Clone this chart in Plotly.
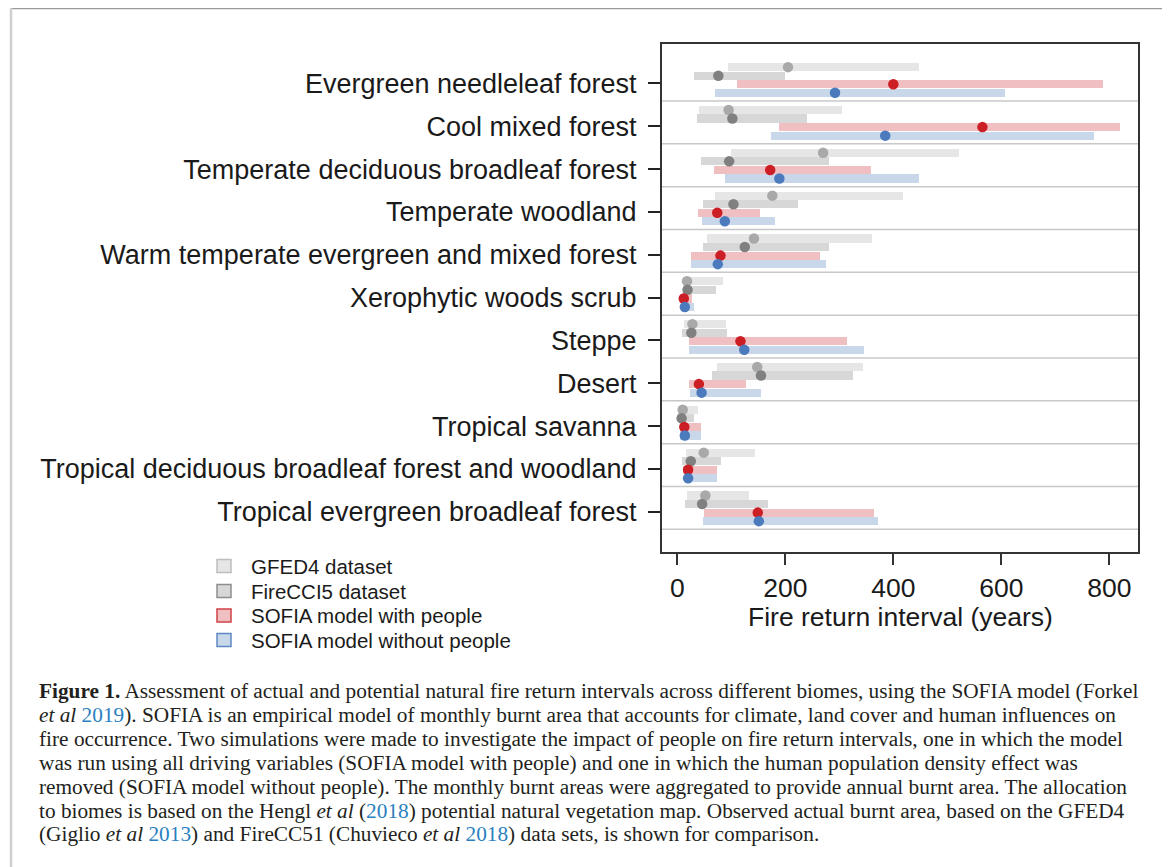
import plotly.graph_objects as go

biomes = [
    "Evergreen needleleaf forest",
    "Cool mixed forest",
    "Temperate deciduous broadleaf forest",
    "Temperate woodland",
    "Warm temperate evergreen and mixed forest",
    "Xerophytic woods scrub",
    "Steppe",
    "Desert",
    "Tropical savanna",
    "Tropical deciduous broadleaf forest and woodland",
    "Tropical evergreen broadleaf forest",
]

gfed4_low = [93, 40, 99, 70, 55, 10, 12, 73, 2, 16, 18]
gfed4_high = [448, 305, 522, 418, 361, 85, 91, 343, 38, 143, 132]
gfed4_mid = [205, 95, 270, 176, 142, 18, 28, 148, 10, 49, 52]

firecci_low = [31, 36, 43, 48, 48, 10, 9, 65, 0, 8, 14]
firecci_high = [199, 241, 280, 223, 280, 72, 92, 325, 31, 81, 168]
firecci_mid = [76, 102, 96, 104, 125, 19, 26, 155, 8, 25, 46]

with_low = [110, 188, 68, 39, 25, 5, 22, 21, 5, 10, 49]
with_high = [789, 820, 359, 153, 265, 28, 314, 127, 43, 73, 364]
with_mid = [400, 565, 172, 74, 80, 12, 117, 40, 13, 20, 149]

without_low = [70, 173, 88, 46, 25, 7, 22, 24, 5, 12, 47]
without_high = [606, 771, 447, 181, 275, 31, 346, 155, 44, 73, 372]
without_mid = [292, 385, 189, 88, 75, 14, 124, 45, 14, 20, 151]

series_names = ["GFED4 dataset", "FireCCI5 dataset", "SOFIA model with people", "SOFIA model without people"]
x_ticks = [0, 200, 400, 600, 800]

series = [
    (gfed4_low, gfed4_high, gfed4_mid),
    (firecci_low, firecci_high, firecci_mid),
    (with_low, with_high, with_mid),
    (without_low, without_high, without_mid),
]
offsets = [-0.38, -0.18, 0.02, 0.22]
bar_colors = ["#e6e6e6", "#d7d7d7", "#f0bfc2", "#c9d7ea"]
pt_colors = ["#a9a9a9", "#808080", "#cc1f25", "#4b7bbd"]
legend_lines = ["#bdbdbd", "#8f8f8f", "#d0424a", "#5f88c2"]

fig = go.Figure()
idx = list(range(len(biomes)))

for k, (lo, hi, mid) in enumerate(series):
    fig.add_trace(go.Bar(
        orientation="h",
        y=[i + offsets[k] for i in idx],
        x=[h - l for l, h in zip(lo, hi)],
        base=lo,
        width=0.19,
        marker=dict(color=bar_colors[k], line=dict(width=0)),
        name=series_names[k],
        showlegend=False,
        hoverinfo="skip",
    ))

for k, (lo, hi, mid) in enumerate(series):
    fig.add_trace(go.Scatter(
        mode="markers",
        y=[i + offsets[k] for i in idx],
        x=mid,
        name=series_names[k],
        marker=dict(color=pt_colors[k], size=10.5, line=dict(width=0)),
        showlegend=False,
    ))

# page has an 8px body margin; reference coordinates are screen pixels
OFF = 8
W, H = 1162, 859
L, R, T, B = 654, 1130, 36, 544


def sx(px):
    return (px - OFF - L) / (R - L)


def sy(py):
    return (B - (py - OFF)) / (B - T)


shapes = []
for i in idx:
    shapes.append(dict(type="line", xref="paper", yref="y", x0=0, x1=1,
                       y0=i + 0.41, y1=i + 0.41,
                       line=dict(color="#c8c8c8", width=1.5), layer="below"))

# figure frame
shapes.append(dict(type="line", xref="paper", yref="paper", x0=sx(11), x1=sx(1166),
                   y0=sy(8.5), y1=sy(8.5), line=dict(color="#9a9a9a", width=1.5)))
shapes.append(dict(type="line", xref="paper", yref="paper", x0=sx(11), x1=sx(11),
                   y0=sy(8), y1=sy(900), line=dict(color="#cfcfcf", width=2.5)))
shapes.append(dict(type="line", xref="paper", yref="paper", x0=sx(1166), x1=sx(1166),
                   y0=sy(8), y1=sy(900), line=dict(color="#cfcfcf", width=2)))

annotations = []

# manual legend
leg_y = [566, 591, 615.5, 640]
for k in range(4):
    shapes.append(dict(type="rect", xref="paper", yref="paper",
                       x0=sx(217), x1=sx(231), y0=sy(leg_y[k] + 6.5), y1=sy(leg_y[k] - 6.5),
                       fillcolor=bar_colors[k], line=dict(color=legend_lines[k], width=1.5)))
    annotations.append(dict(text=series_names[k], xref="paper", yref="paper",
                            x=sx(249), y=sy(leg_y[k]), xanchor="left", yanchor="middle",
                            showarrow=False,
                            font=dict(family="Liberation Sans, Arial, sans-serif", size=20.5,
                                      color="#1a1a1a")))

annotations.append(dict(text="Fire return interval (years)", xref="paper", yref="paper",
                        x=0.5, y=sy(617), xanchor="center", yanchor="middle", showarrow=False,
                        font=dict(family="Liberation Sans, Arial, sans-serif", size=26.5,
                                  color="#1a1a1a")))

blue = "#2a7fc0"
caption_lines = [
    "<b>Figure 1.</b> Assessment of actual and potential natural fire return intervals across different biomes, using the SOFIA model (Forkel",
    f"<i>et al</i> <span style='color:{blue}'>2019</span>). SOFIA is an empirical model of monthly burnt area that accounts for climate, land cover and human influences on",
    "fire occurrence. Two simulations were made to investigate the impact of people on fire return intervals, one in which the model",
    "was run using all driving variables (SOFIA model with people) and one in which the human population density effect was",
    "removed (SOFIA model without people). The monthly burnt areas were aggregated to provide annual burnt area. The allocation",
    f"to biomes is based on the Hengl <i>et al</i> (<span style='color:{blue}'>2018</span>) potential natural vegetation map. Observed actual burnt area, based on the GFED4",
    f"(Giglio <i>et al</i> <span style='color:{blue}'>2013</span>) and FireCC51 (Chuvieco <i>et al</i> <span style='color:{blue}'>2018</span>) data sets, is shown for comparison.",
]
for j, line in enumerate(caption_lines):
    annotations.append(dict(text=line, xref="paper", yref="paper", x=sx(37), y=sy(691 + 23.9 * j),
                            xanchor="left", yanchor="middle", align="left", showarrow=False,
                            font=dict(family="Liberation Serif, Times New Roman, serif", size=21.3,
                                      color="#231f20")))

fig.update_layout(
    width=W, height=H,
    margin=dict(l=L, r=W - R, t=T, b=H - B, pad=0),
    paper_bgcolor="white", plot_bgcolor="white",
    barmode="overlay",
    bargap=0,
    showlegend=False,
    font=dict(family="Liberation Sans, Arial, sans-serif", color="#1a1a1a"),
    shapes=shapes,
    annotations=annotations,
    xaxis=dict(range=[-28.3, 853], tickvals=x_ticks, ticktext=[str(v) for v in x_ticks],
               ticks="outside", ticklen=11, tickwidth=1.5, tickcolor="#333",
               showline=True, linecolor="#333", linewidth=2, mirror=True,
               showgrid=False, zeroline=False, tickfont=dict(size=26.5), ticklabelstandoff=0),
    yaxis=dict(range=[10.94, -0.92], tickvals=idx, ticktext=biomes,
               ticks="outside", ticklen=12, tickwidth=1.5, tickcolor="#222",
               showline=True, linecolor="#333", linewidth=2, mirror=True,
               showgrid=False, zeroline=False, tickfont=dict(size=27), ticklabelstandoff=6),
)

fig.write_html("out.html")
